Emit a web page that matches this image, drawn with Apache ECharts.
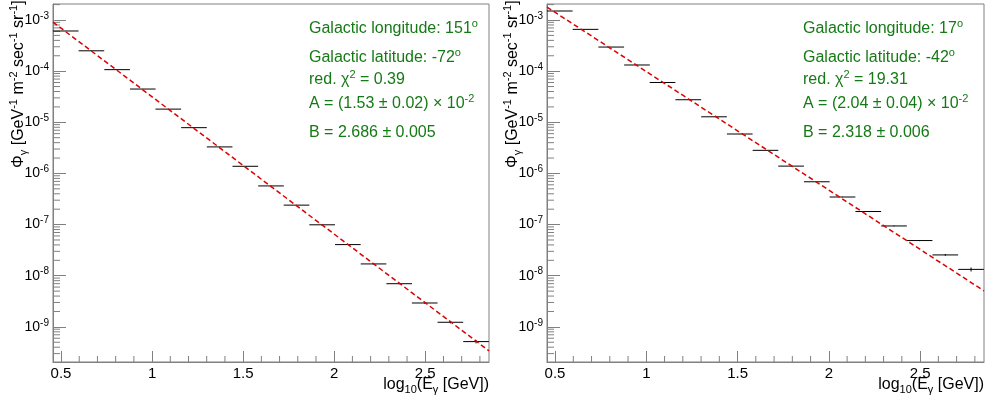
<!DOCTYPE html>
<html lang="en">
<head>
    <meta charset="UTF-8">
    <title>gamma flux</title>
    <script src="https://cdn.jsdelivr.net/npm/echarts@6/dist/echarts.min.js"></script>
    <style>
        html, body { margin: 0; padding: 0; background: #fff; }
        #box { width: 988px; height: 406px; }
    </style>
</head>
<body>
    <div id="box"></div>
    <script>
        // bin centres in log10(E/GeV), same binning in both panels
        var logE = [0.526, 0.667, 0.808, 0.949, 1.089, 1.230, 1.371, 1.512, 1.653,
                    1.793, 1.934, 2.075, 2.216, 2.357, 2.497, 2.638, 2.779];
        var binWidth = 0.1408;

        // left panel: l = 151, b = -72
        var fluxLeft = [6.1e-4, 2.5e-4, 1.07e-4, 4.47e-5, 1.81e-5, 7.85e-6, 3.3e-6, 1.38e-6, 5.7e-7,
                        2.4e-7, 9.9e-8, 4.06e-8, 1.7e-8, 6.98e-9, 2.93e-9, 1.23e-9, 5.15e-10];
        var errLeft  = [2e-6, 1e-6, 5e-7, 2e-7, 1e-7, 5e-8, 2e-8, 1e-8, 5e-9,
                        2e-9, 1e-9, 6e-10, 3e-10, 1.5e-10, 8e-11, 6e-11, 4e-11];
        // right panel: l = 17, b = -42
        var fluxRight = [1.5e-3, 6.56e-4, 2.96e-4, 1.32e-4, 6.0e-5, 2.76e-5, 1.28e-5, 5.9e-6, 2.83e-6,
                         1.39e-6, 6.87e-7, 3.46e-7, 1.8e-7, 9.4e-8, 4.87e-8, 2.55e-8, 1.33e-8];
        var errRight  = [5e-6, 2e-6, 1e-6, 5e-7, 2e-7, 1e-7, 5e-8, 3e-8, 1.5e-8,
                         8e-9, 5e-9, 3e-9, 2e-9, 1.5e-9, 1.2e-9, 1e-9, 1.2e-9];

        // fitted power law, end points over the axis range
        var fitLeft  = [[0.456, 9.1e-4], [2.85, 3.4e-10]];
        var fitRight = [[0.456, 1.79e-3], [2.85, 5.06e-9]];

        var textLeft  = ['Galactic longitude: 151{s|o}', 'Galactic latitude: -72{s|o}',
                         'red. \u03c7{s|2} = 0.39', 'A = (1.53 \u00b1 0.02) \u00d7 10{s|-2}',
                         'B = 2.686 \u00b1 0.005'];
        var textRight = ['Galactic longitude: 17{s|o}', 'Galactic latitude: -42{s|o}',
                         'red. \u03c7{s|2} = 19.31', 'A = (2.04 \u00b1 0.04) \u00d7 10{s|-2}',
                         'B = 2.318 \u00b1 0.006'];

        var xMin = 0.456, xMax = 2.85;
        var yMin = 2.056e-10, yMax = 2.056e-3;
        var grey = '#808080';
        var green = '#157a15';
        var font = 'Liberation Sans, Arial, sans-serif';

        // minor tick positions (decoration only)
        var xMinor = [];
        for (var i = 5; i <= 28; i++) { if (i % 5 !== 0) xMinor.push([i / 10, yMin]); }
        var yMinor = [];
        for (var e = -10; e <= -3; e++) {
            for (var k = 2; k <= 9; k++) {
                var v = k * Math.pow(10, e);
                if (v > yMin && v < yMax) yMinor.push([xMin, v]);
            }
        }

        function points(flux, err) {
            return logE.map(function (x, i) { return [x, flux[i], err[i]]; });
        }

        function renderBar(params, api) {
            var x = api.value(0), y = api.value(1), er = api.value(2);
            var a = api.coord([x - binWidth / 2, y]);
            var b = api.coord([x + binWidth / 2, y]);
            var t = api.coord([x, y + er]);
            var d = api.coord([x, y - er]);
            var st = { stroke: '#000', lineWidth: 1 };
            return {
                type: 'group',
                children: [
                    { type: 'line', shape: { x1: a[0], y1: a[1], x2: b[0], y2: b[1] }, style: st },
                    { type: 'line', shape: { x1: t[0], y1: t[1], x2: d[0], y2: d[1] }, style: st }
                ]
            };
        }
        function renderXMinor(params, api) {
            var p = api.coord([api.value(0), api.value(1)]);
            return { type: 'line', shape: { x1: p[0], y1: p[1], x2: p[0], y2: p[1] - 6 },
                     style: { stroke: grey, lineWidth: 1 } };
        }
        function renderYMinor(params, api) {
            var p = api.coord([api.value(0), api.value(1)]);
            return { type: 'line', shape: { x1: p[0], y1: p[1], x2: p[0] + 7, y2: p[1] },
                     style: { stroke: grey, lineWidth: 1 } };
        }

        var grids = [
            { left: 53, top: 4, width: 436, height: 358 },
            { left: 547, top: 4, width: 437, height: 358 }
        ];

        var xAxes = [], yAxes = [], series = [], graphics = [];

        [[fluxLeft, errLeft, fitLeft, textLeft], [fluxRight, errRight, fitRight, textRight]].forEach(function (p, gi) {
            xAxes.push({
                type: 'value', gridIndex: gi, min: xMin, max: xMax,
                axisLine: { lineStyle: { color: grey } },
                axisTick: { inside: true, length: 11, lineStyle: { color: grey } },
                axisLabel: {
                    color: '#000', fontSize: 15, fontFamily: font, margin: 4,
                    showMinLabel: false, showMaxLabel: false,
                    formatter: function (v) {
                        return Math.abs(v * 2 - Math.round(v * 2)) < 1e-6 ? String(v) : '';
                    }
                },
                splitLine: { show: false }
            });
            yAxes.push({
                type: 'log', logBase: 10, gridIndex: gi, min: yMin, max: yMax,
                axisLine: { show: true, lineStyle: { color: grey } },
                axisTick: { show: true, inside: true, length: 13, lineStyle: { color: grey } },
                axisLabel: {
                    color: '#000', fontSize: 14, fontFamily: font, margin: 4, lineHeight: 18,
                    showMinLabel: false, showMaxLabel: false,
                    formatter: function (v) {
                        var ex = Math.round(Math.log10(v));
                        if (Math.abs(Math.log10(v) - ex) > 1e-6) return '';
                        return '10{s|' + ex + '}';
                    },
                    rich: {
                        s: { fontSize: 10, fontFamily: font, color: '#000', verticalAlign: 'top', lineHeight: 10 }
                    }
                },
                splitLine: { show: false }
            });
            series.push({
                type: 'custom', xAxisIndex: gi, yAxisIndex: gi, silent: true, z: 3,
                renderItem: renderBar, data: points(p[0], p[1])
            });
            series.push({
                type: 'line', xAxisIndex: gi, yAxisIndex: gi, silent: true, z: 4,
                showSymbol: false, symbol: 'none', data: p[2],
                lineStyle: { color: '#dd0000', width: 1.5, type: [5, 3] }
            });
            series.push({
                type: 'custom', xAxisIndex: gi, yAxisIndex: gi, silent: true,
                renderItem: renderXMinor, data: xMinor
            });
            series.push({
                type: 'custom', xAxisIndex: gi, yAxisIndex: gi, silent: true,
                renderItem: renderYMinor, data: yMinor
            });

            var x0 = gi === 0 ? 0 : 494;
            var rowY = [18, 47, 69, 93, 122];
            p[3].forEach(function (t, j) {
                graphics.push({
                    type: 'text', left: x0 + 309, top: rowY[j], silent: true,
                    style: {
                        text: t, fill: green, fontSize: 16, fontFamily: font, lineHeight: 21,
                        rich: {
                            s: { fontSize: 11, fill: green, fontFamily: font, verticalAlign: 'top', lineHeight: 11 }
                        }
                    }
                });
            });
            // y title (rotated)
            graphics.push({
                type: 'text', x: x0 + 8, y: 168, rotation: Math.PI / 2, silent: true,
                style: {
                    text: '\u03a6{b|\u03b3} [GeV{s|-1} m{s|-2} sec{s|-1} sr{s|-1}]',
                    fill: '#000', fontSize: 16, fontFamily: font, lineHeight: 21, verticalAlign: 'top',
                    rich: {
                        s: { fontSize: 11, fill: '#000', fontFamily: font, verticalAlign: 'top', lineHeight: 11 },
                        b: { fontSize: 11, fill: '#000', fontFamily: font, verticalAlign: 'bottom', lineHeight: 11 }
                    }
                }
            });
            // x title
            graphics.push({
                type: 'text', right: gi === 0 ? 988 - 489 : 988 - 984, top: 375, silent: true,
                style: {
                    text: 'log{b|10}(E{b|\u03b3} [GeV])',
                    fill: '#000', fontSize: 16, fontFamily: font, lineHeight: 20,
                    rich: {
                        b: { fontSize: 11, fill: '#000', fontFamily: font, verticalAlign: 'bottom', lineHeight: 11 }
                    }
                }
            });
        });

        var myChart = echarts.init(document.getElementById('box'));
        myChart.setOption({
            backgroundColor: '#fff',
            animation: false,
            grid: grids.map(function (g) {
                return Object.assign({ show: true, borderColor: grey, borderWidth: 1, backgroundColor: 'transparent' }, g);
            }),
            xAxis: xAxes,
            yAxis: yAxes,
            series: series,
            graphic: graphics
        });
    </script>
</body>
</html>
